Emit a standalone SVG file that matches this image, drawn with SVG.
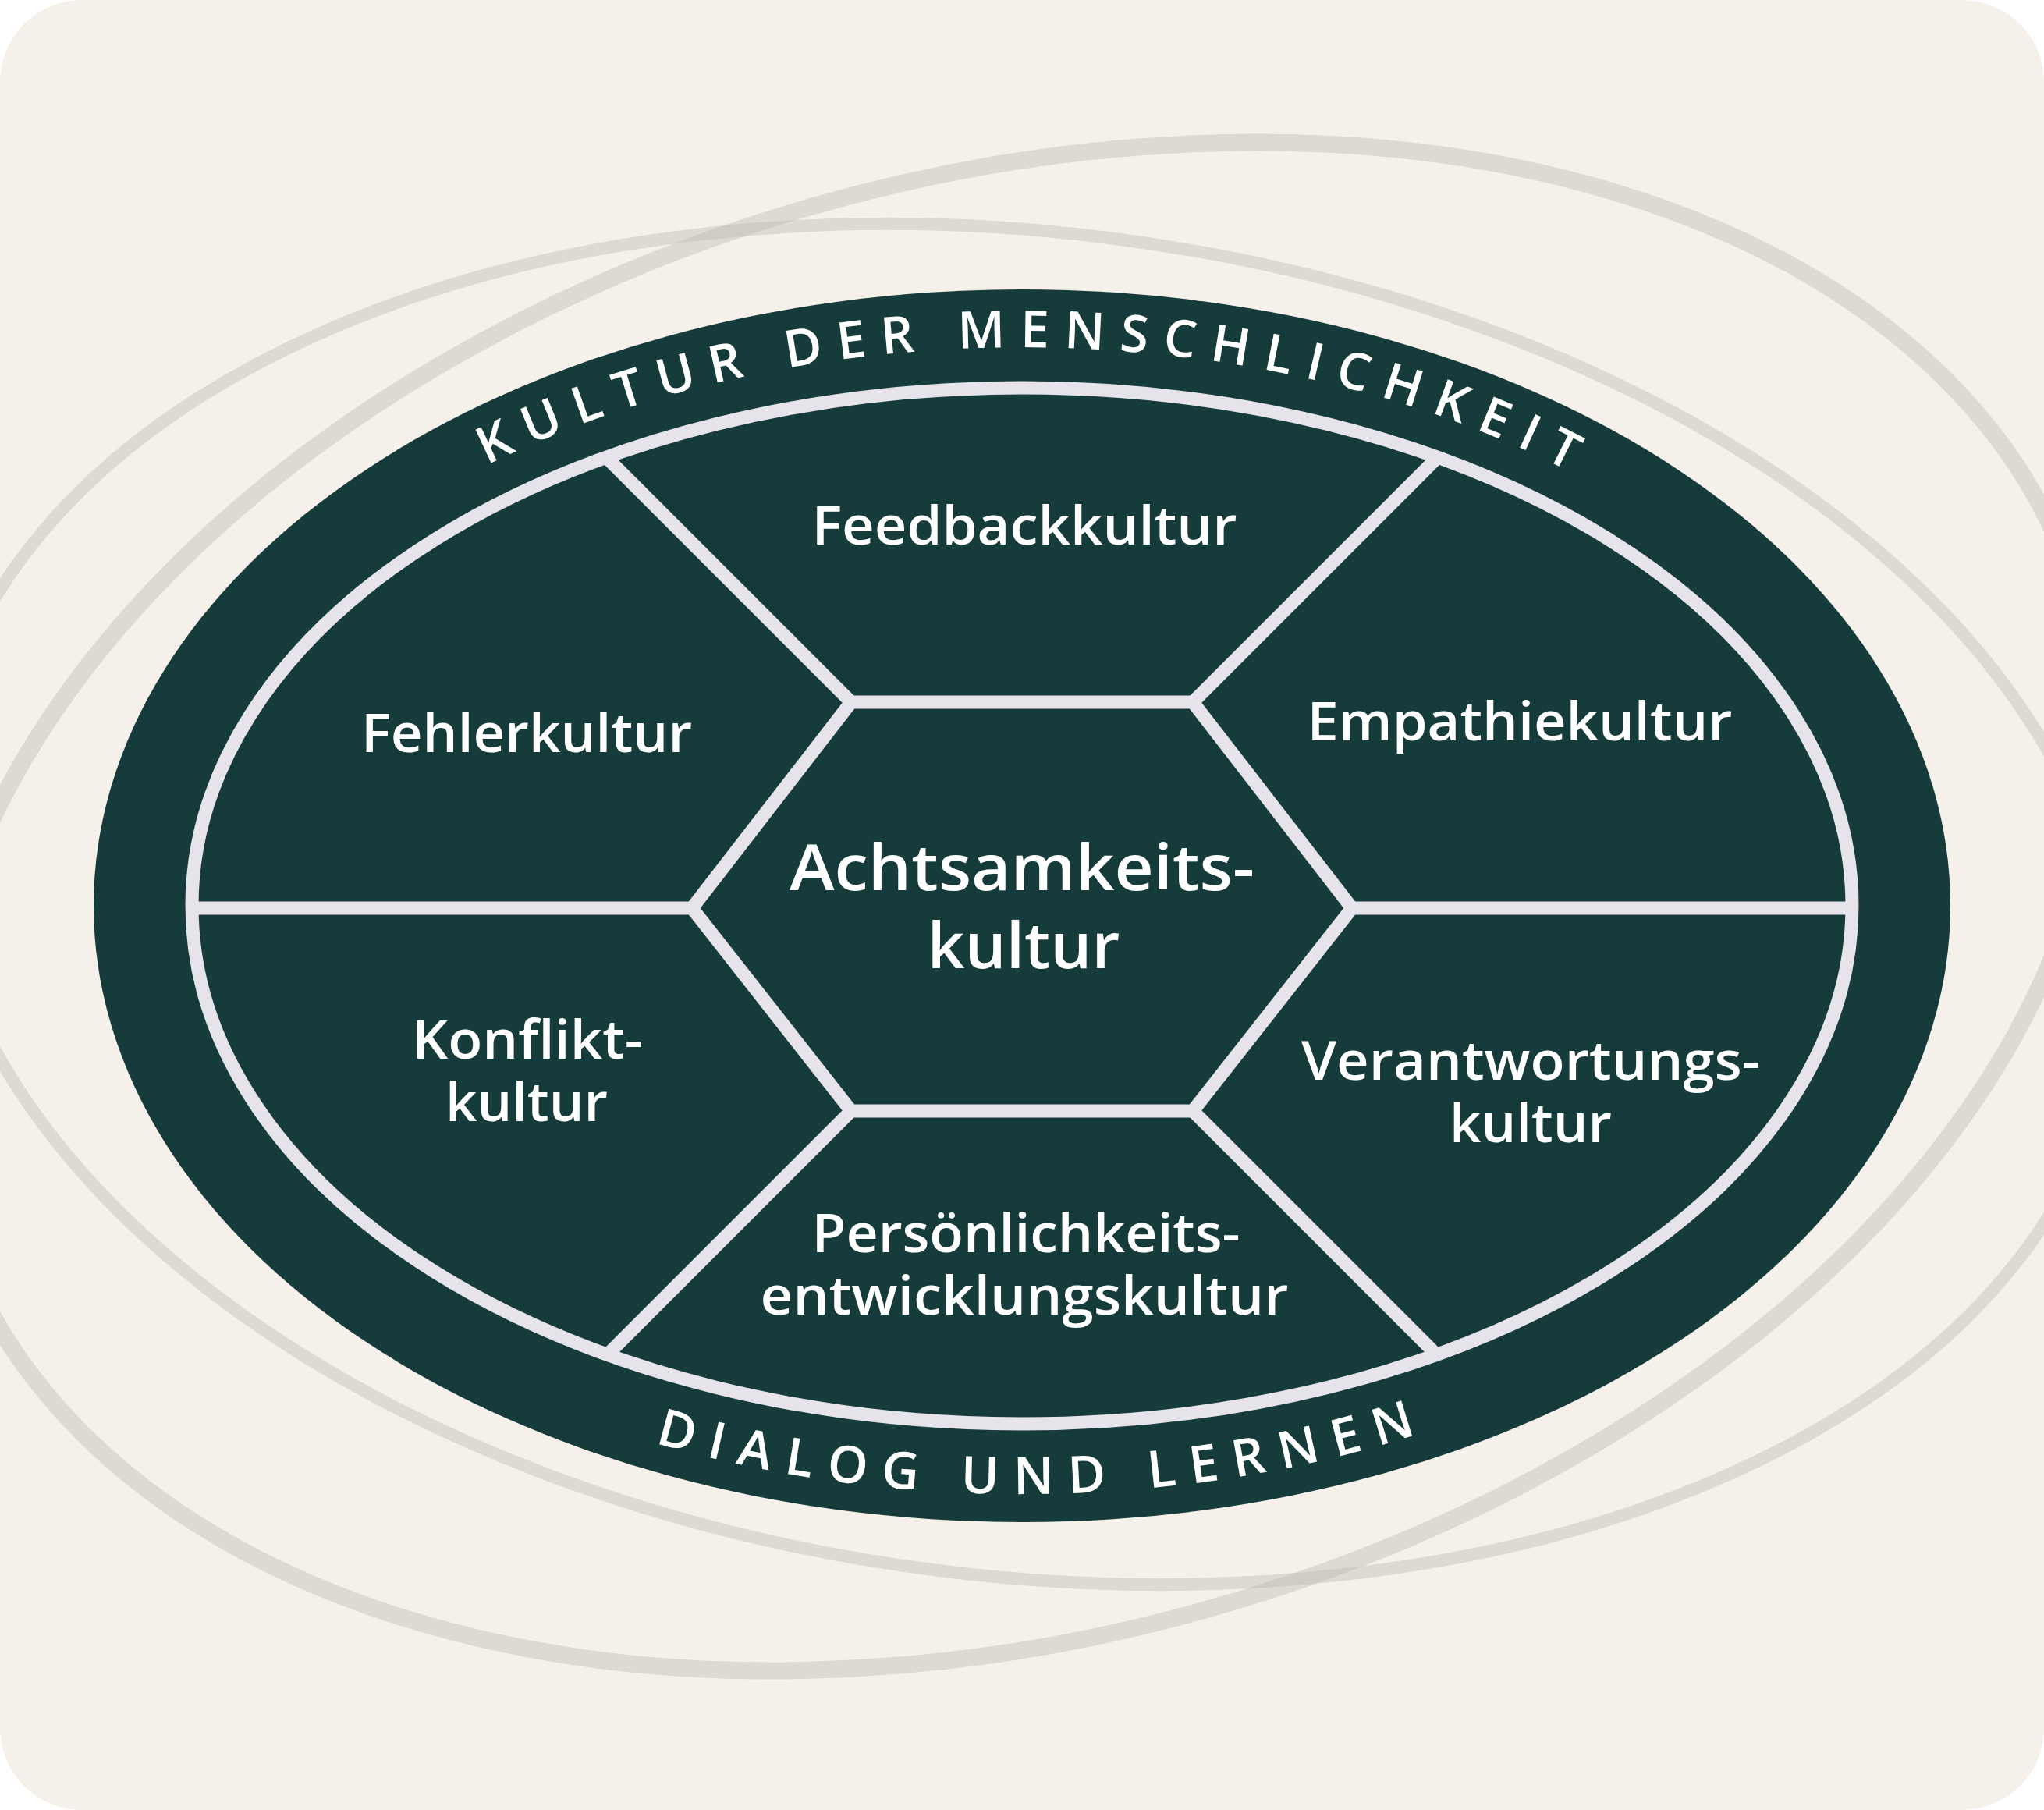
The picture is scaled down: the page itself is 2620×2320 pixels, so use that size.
<svg xmlns="http://www.w3.org/2000/svg" width="2620" height="2320" viewBox="0 0 2620 2320">
  <style>
    .lbl { font-family: "Open Sans", "Noto Sans", "DejaVu Sans", sans-serif; font-weight: 600; fill: #ffffff; text-anchor: middle; }
    .side { font-size: 68px; }
    .core { font-size: 82px; }
    .arc { font-family: "Open Sans", "Noto Sans", "DejaVu Sans", sans-serif; font-weight: 600; font-size: 66px; fill: #ffffff; letter-spacing: 19px; text-anchor: middle; }
    .orbit { fill: none; stroke: #bdb9b3; stroke-opacity: 0.42; }
    .div { stroke: #e6e4ea; stroke-width: 17; fill: none; }
  </style>
  <defs>
    <clipPath id="innerClip">
      <ellipse cx="1310" cy="1161" rx="1064" ry="664"/>
    </clipPath>
    <path id="topArc" d="M 194 1161 A 1116 716 0 0 1 2426 1161"/>
    <path id="bottomArc" d="M 157 1161 A 1153 754 0 0 0 2463 1161"/>
  </defs>

  <rect x="0" y="0" width="2620" height="2320" fill="#ffffff"/>
  <rect id="background" x="0" y="0" width="2620" height="2320" rx="105" ry="105" fill="#f6f0eb"/>

  <g id="orbits">
    <ellipse class="orbit" cx="1300" cy="1162" rx="1420" ry="934" stroke-width="22" transform="rotate(-16 1300 1162)"/>
    <ellipse class="orbit" cx="1312" cy="1159" rx="1406" ry="861" stroke-width="16" transform="rotate(7.15 1312 1159)"/>
  </g>

  <g id="outer-band">
    <ellipse cx="1310" cy="1161" rx="1190" ry="790" fill="#153b3a"/>
  </g>

  <g id="connectors" clip-path="url(#innerClip)">
    <line class="div" x1="887" y1="1164" x2="150" y2="1164"/>
    <line class="div" x1="1733" y1="1164" x2="2470" y2="1164"/>
    <line class="div" x1="1091" y1="900" x2="641" y2="450"/>
    <line class="div" x1="1529" y1="900" x2="1979" y2="450"/>
    <line class="div" x1="1091" y1="1424" x2="641" y2="1874"/>
    <line class="div" x1="1529" y1="1424" x2="1979" y2="1874"/>
  </g>

  <g id="ring">
    <ellipse class="div" cx="1310" cy="1161" rx="1064" ry="664"/>
  </g>

  <g id="node-achtsamkeit">
    <polygon class="div" points="1091,900 1529,900 1733,1164 1529,1424 1091,1424 887,1164" stroke-linejoin="miter"/>
    <text class="lbl core" x="1310" y="1141" textLength="596" lengthAdjust="spacingAndGlyphs">Achtsamkeits-</text>
    <text class="lbl core" x="1312" y="1241" textLength="247" lengthAdjust="spacingAndGlyphs">kultur</text>
  </g>

  <g id="node-feedback">
    <text class="lbl side" x="1313" y="698" textLength="545" lengthAdjust="spacingAndGlyphs">Feedbackkultur</text>
  </g>
  <g id="node-fehler">
    <text class="lbl side" x="675" y="964" textLength="424" lengthAdjust="spacingAndGlyphs">Fehlerkultur</text>
  </g>
  <g id="node-empathie">
    <text class="lbl side" x="1948" y="949" textLength="545" lengthAdjust="spacingAndGlyphs">Empathiekultur</text>
  </g>
  <g id="node-konflikt">
    <text class="lbl side" x="676" y="1357" textLength="296" lengthAdjust="spacingAndGlyphs">Konflikt-</text>
    <text class="lbl side" x="675" y="1437" textLength="208" lengthAdjust="spacingAndGlyphs">kultur</text>
  </g>
  <g id="node-verantwortung">
    <text class="lbl side" x="1962" y="1384" textLength="588" lengthAdjust="spacingAndGlyphs">Verantwortungs-</text>
    <text class="lbl side" x="1962" y="1464" textLength="208" lengthAdjust="spacingAndGlyphs">kultur</text>
  </g>
  <g id="node-persoenlichkeit">
    <text class="lbl side" x="1315" y="1605" textLength="549" lengthAdjust="spacingAndGlyphs">Persönlichkeits-</text>
    <text class="lbl side" x="1313" y="1685" textLength="677" lengthAdjust="spacingAndGlyphs">entwicklungskultur</text>
  </g>

  <g id="band-labels">
    <text class="arc"><textPath href="#topArc" startOffset="1474">KULTUR DER MENSCHLICHKEIT</textPath></text>
    <text class="arc"><textPath href="#bottomArc" startOffset="1542">DIALOG UND LERNEN</textPath></text>
  </g>
</svg>
